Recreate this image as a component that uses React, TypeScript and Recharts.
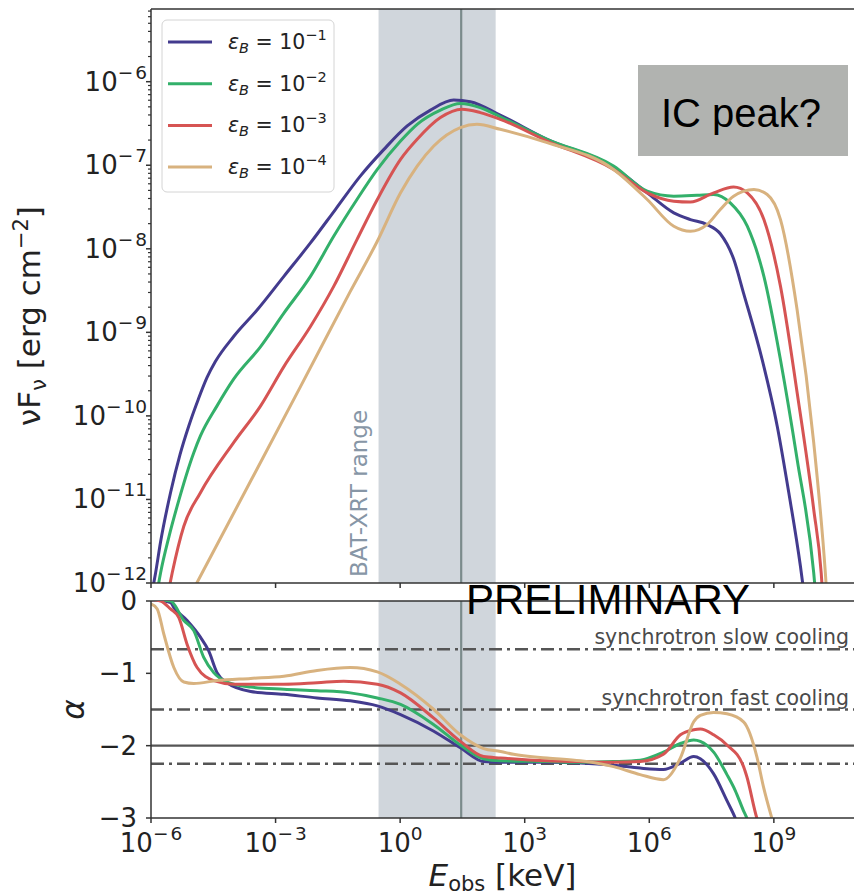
import React from 'react';
import {
  LineChart,
  Line,
  XAxis,
  YAxis,
  Legend,
  ReferenceArea,
  ReferenceLine,
} from 'recharts';

// spectra: [log10(E_obs / keV), log10(νFν / erg cm^-2)] for each ε_B
const SED_EB_1 = [
  [-5.97, -12.1], [-5.89, -11.88], [-5.77, -11.51], [-5.53, -10.92], [-5.3, -10.46],
  [-5.09, -10.12], [-4.86, -9.8], [-4.65, -9.54], [-4.45, -9.35], [-4.01, -9.05],
  [-3.44, -8.73], [-2.8, -8.33], [-2.16, -7.93], [-1.56, -7.53], [-0.96, -7.13],
  [-0.39, -6.81], [0.17, -6.53], [0.73, -6.34], [1.29, -6.22], [1.69, -6.24],
  [2.41, -6.4], [3.54, -6.69], [5.14, -7.02], [5.95, -7.33], [6.59, -7.57],
  [6.99, -7.65], [7.39, -7.71], [7.71, -7.82], [8.03, -8.12], [8.27, -8.53],
  [8.72, -9.33], [9.08, -10.12], [9.36, -10.92], [9.64, -11.8], [9.72, -12.1],
];
const SED_EB_2 = [
  [-5.85, -12.1], [-5.77, -11.88], [-5.57, -11.45], [-5.37, -11.08], [-4.97, -10.44],
  [-4.81, -10.24], [-4.41, -9.88], [-4.01, -9.56], [-3.36, -9.17], [-2.8, -8.77],
  [-2.16, -8.33], [-1.6, -7.85], [-1.04, -7.41], [-0.55, -7.05], [0.01, -6.71],
  [0.41, -6.51], [0.97, -6.34], [1.45, -6.26], [1.93, -6.31], [2.41, -6.42],
  [3.54, -6.69], [5.14, -7.01], [5.95, -7.31], [6.59, -7.37], [7.15, -7.36],
  [7.55, -7.35], [7.95, -7.45], [8.36, -7.73], [8.76, -8.33], [9.16, -9.33],
  [9.56, -10.52], [9.96, -11.88], [10.0, -12.1],
];
const SED_EB_3 = [
  [-5.58, -12.1], [-5.49, -11.88], [-5.21, -11.32], [-4.81, -10.92], [-4.01, -10.32],
  [-3.36, -9.88], [-2.8, -9.41], [-2.16, -8.93], [-1.6, -8.45], [-1.04, -7.89],
  [-0.55, -7.41], [0.01, -6.93], [0.41, -6.69], [0.97, -6.43], [1.49, -6.33],
  [1.93, -6.37], [2.41, -6.45], [3.54, -6.71], [5.14, -7.05], [5.95, -7.33],
  [6.59, -7.43], [6.99, -7.44], [7.55, -7.33], [8.03, -7.26], [8.36, -7.33],
  [8.76, -7.65], [9.16, -8.45], [9.56, -9.72], [9.96, -11.12], [10.14, -11.88],
  [10.17, -12.1],
];
const SED_EB_4 = [
  [-4.95, -12.05], [-4.77, -11.88], [-3.6, -10.78], [-2.4, -9.65], [-1.2, -8.51],
  [-0.55, -7.91], [0.01, -7.33], [0.41, -7.01], [0.81, -6.77], [1.45, -6.55],
  [1.85, -6.51], [2.41, -6.57], [3.54, -6.73], [5.14, -7.05], [5.95, -7.41],
  [6.59, -7.73], [6.99, -7.79], [7.39, -7.71], [7.71, -7.53], [8.03, -7.37],
  [8.52, -7.29], [8.84, -7.35], [9.16, -7.65], [9.56, -8.73], [9.96, -10.32],
  [10.24, -11.88], [10.27, -12.1],
];

// local photon index α: [log10(E_obs / keV), α]
const ALPHA_EB_1 = [
  [-6.0, 0.02], [-5.53, -0.02], [-5.45, -0.09], [-5.13, -0.27], [-4.81, -0.5],
  [-4.61, -0.69], [-4.41, -0.99], [-4.17, -1.13], [-3.6, -1.25], [-2.8, -1.29],
  [-2.0, -1.34], [-1.2, -1.38], [-0.55, -1.45], [0.01, -1.57], [0.81, -1.8],
  [1.45, -2.03], [2.01, -2.22], [2.42, -2.23], [3.54, -2.23], [4.34, -2.24],
  [5.14, -2.27], [5.78, -2.31], [6.34, -2.33], [6.75, -2.24], [7.07, -2.15],
  [7.23, -2.18], [7.55, -2.39], [7.87, -2.76], [8.07, -3.0], [8.15, -3.12],
];
const ALPHA_EB_2 = [
  [-6.0, 0.02], [-5.53, 0.0], [-5.21, -0.27], [-4.97, -0.41], [-4.73, -0.78],
  [-4.49, -0.99], [-4.17, -1.12], [-3.6, -1.19], [-2.8, -1.22], [-2.0, -1.24],
  [-1.2, -1.27], [-0.55, -1.34], [0.01, -1.43], [0.81, -1.71], [1.45, -1.99],
  [2.01, -2.18], [2.42, -2.21], [3.54, -2.22], [4.34, -2.23], [5.14, -2.22],
  [5.78, -2.2], [6.34, -2.09], [6.75, -1.97], [7.07, -1.92], [7.23, -1.94],
  [7.55, -2.09], [7.87, -2.4], [8.07, -2.62], [8.27, -2.9], [8.35, -3.0],
  [8.42, -3.1],
];
const ALPHA_EB_3 = [
  [-6.0, 0.02], [-5.77, 0.0], [-5.53, -0.11], [-5.33, -0.23], [-5.13, -0.6],
  [-4.89, -0.92], [-4.49, -1.1], [-4.0, -1.15], [-2.8, -1.15], [-2.0, -1.13],
  [-1.36, -1.11], [-0.55, -1.15], [0.01, -1.27], [0.81, -1.62], [1.45, -1.94],
  [2.01, -2.15], [2.42, -2.17], [3.54, -2.21], [4.34, -2.22], [5.14, -2.23],
  [5.78, -2.22], [6.34, -2.12], [6.75, -1.85], [7.07, -1.78], [7.23, -1.77],
  [7.55, -1.85], [7.87, -1.99], [8.27, -2.29], [8.35, -2.43], [8.59, -3.0],
  [8.65, -3.1],
];
const ALPHA_EB_4 = [
  [-6.0, -0.04], [-5.85, -0.11], [-5.69, -0.46], [-5.45, -0.92], [-5.21, -1.12],
  [-4.97, -1.14], [-4.41, -1.1], [-3.6, -1.07], [-2.8, -1.04], [-2.0, -0.96],
  [-1.2, -0.92], [-0.55, -0.98], [0.01, -1.15], [0.81, -1.5], [1.45, -1.85],
  [2.01, -2.04], [2.42, -2.08], [2.73, -2.12], [3.54, -2.17], [4.34, -2.21],
  [5.14, -2.29], [5.78, -2.4], [6.34, -2.47], [6.75, -2.17], [7.07, -1.67],
  [7.23, -1.58], [7.55, -1.54], [7.87, -1.56], [8.27, -1.67], [8.59, -2.15],
  [8.75, -2.57], [8.95, -3.0], [9.0, -3.1],
];

const SED_SERIES = [SED_EB_1, SED_EB_2, SED_EB_3, SED_EB_4];
const ALPHA_SERIES = [ALPHA_EB_1, ALPHA_EB_2, ALPHA_EB_3, ALPHA_EB_4];
const EB_EXPONENTS = ['−1', '−2', '−3', '−4'];
const COLORS = ['#433b8e', '#33b06a', '#d65453', '#d8b27f'];

const E_TICKS = [-6, -3, 0, 3, 6, 9];
const FLUX_TICKS = [-12, -11, -10, -9, -8, -7, -6];
const ALPHA_TICKS = [0, -1, -2, -3];

const E_MIN = -6;
const E_MAX = 10.93;
const F_MIN = -12;
const F_MAX = -5.13;
const A_MIN = -3;
const A_MAX = 0;

// BAT-XRT window (0.3-200 keV) and the marked energy
const BAT_XRT = [-0.52, 2.3];
const E_MARK = 1.47;

// reference indices
const SLOW_COOLING = -2 / 3;
const FAST_COOLING = -1.5;
const ALPHA_TWO = -2;
const ALPHA_P = -2.25;

const FLUX_MINOR = FLUX_TICKS.flatMap((d) =>
  [2, 3, 4, 5, 6, 7, 8, 9].map((m) => d + Math.log10(m)),
).filter((v) => v < F_MAX);

const FONT = '"DejaVu Sans", sans-serif';
const SANS = '"Liberation Sans", Arial, sans-serif';
const SPINE = '#333';
const INK = '#222';
const TICK_SIZE = 26;
const SUP_SIZE = 18.5;
const LABEL_SIZE = 31;
const spine = { stroke: SPINE, strokeWidth: 1.5 };

const toPoints = (pairs: number[][]) => pairs.map(([x, y]) => ({ x, y }));

// power-of-ten label, minus sign set slightly apart like mathtext does
function Pow10({ v }: { v: number }) {
  if (v < 0) {
    return (
      <>
        10
        <tspan dy={-12} fontSize={SUP_SIZE}>−</tspan>
        <tspan dx={2} fontSize={SUP_SIZE}>{-v}</tspan>
      </>
    );
  }
  return (
    <>
      10
      <tspan dy={-12} fontSize={SUP_SIZE}>{v}</tspan>
    </>
  );
}

function FluxTick({ x, y, payload }: any) {
  const v = payload.value;
  if (!Number.isInteger(v)) {
    return <line x1={x - 3} x2={x} y1={y} y2={y} stroke={SPINE} strokeWidth={1.2} />;
  }
  return (
    <g>
      <line x1={x - 5} x2={x} y1={y} y2={y} stroke={SPINE} strokeWidth={1.5} />
      <text x={x - 4} y={y + 9} textAnchor="end" fontFamily={FONT} fontSize={TICK_SIZE} fill={INK}>
        <Pow10 v={v} />
      </text>
    </g>
  );
}

function AlphaTick({ x, y, payload }: any) {
  const v = payload.value;
  return (
    <g>
      <line x1={x - 5} x2={x} y1={y} y2={y} stroke={SPINE} strokeWidth={1.5} />
      <text x={x - 14} y={y + 9} textAnchor="end" fontFamily={FONT} fontSize={TICK_SIZE} fill={INK}>
        {v < 0 ? `−${-v}` : `${v}`}
      </text>
    </g>
  );
}

function EMarkTick({ x, y }: any) {
  return <line x1={x} x2={x} y1={y} y2={y + 5} stroke={SPINE} strokeWidth={1.5} />;
}

function ETick({ x, y, payload }: any) {
  return (
    <g>
      <line x1={x} x2={x} y1={y} y2={y + 5} stroke={SPINE} strokeWidth={1.5} />
      <text x={x} y={y + 34} textAnchor="middle" fontFamily={FONT} fontSize={TICK_SIZE} fill={INK}>
        <Pow10 v={payload.value} />
      </text>
    </g>
  );
}

function FluxLabel({ viewBox }: any) {
  if (!viewBox) return null;
  const cx = 40;
  const cy = viewBox.y + viewBox.height / 2 + 20;
  return (
    <text
      x={cx}
      y={cy}
      transform={`rotate(-90 ${cx} ${cy})`}
      textAnchor="middle"
      fontFamily={FONT}
      fontSize={LABEL_SIZE}
      fill={INK}
    >
      νF<tspan dy={6} fontSize={21}>ν</tspan>
      <tspan dy={-6}> [erg cm</tspan>
      <tspan dy={-12} fontSize={21}>−2</tspan>
      <tspan dy={12}>]</tspan>
    </text>
  );
}

function AlphaLabel({ viewBox }: any) {
  if (!viewBox) return null;
  const cx = 84;
  const cy = viewBox.y + viewBox.height / 2;
  return (
    <text
      x={cx}
      y={cy}
      transform={`rotate(-90 ${cx} ${cy})`}
      textAnchor="middle"
      fontFamily={FONT}
      fontStyle="italic"
      fontSize={LABEL_SIZE}
      fill={INK}
    >
      α
    </text>
  );
}

function ELabel({ viewBox }: any) {
  if (!viewBox) return null;
  const cx = viewBox.x + viewBox.width / 2;
  return (
    <text x={cx} y={viewBox.y + 68} textAnchor="middle" fontFamily={FONT} fontSize={LABEL_SIZE} fill={INK}>
      <tspan fontStyle="italic">E</tspan>
      <tspan dy={5} fontSize={21}>obs</tspan>
      <tspan dy={-5}> [keV]</tspan>
    </text>
  );
}

function BandLabel({ viewBox }: any) {
  if (!viewBox) return null;
  const tx = viewBox.x - 12;
  const ty = viewBox.y + viewBox.height - 6;
  return (
    <text
      x={tx}
      y={ty}
      transform={`rotate(-90 ${tx} ${ty})`}
      fontFamily={FONT}
      fontSize={23}
      fill="#8796a6"
    >
      BAT-XRT range
    </text>
  );
}

function CoolingLabel({ viewBox, text }: any) {
  if (!viewBox) return null;
  return (
    <text
      x={viewBox.x + viewBox.width - 5}
      y={viewBox.y - 5}
      textAnchor="end"
      fontFamily={FONT}
      fontSize={20.5}
      fill="#4a4a4a"
    >
      {text}
    </text>
  );
}

function EpsLegend() {
  return (
    <svg width={174} height={174}>
      <rect x={1} y={1} width={172} height={172} rx={5} fill="#fff" fillOpacity={0.85} stroke="#d4d4d4" />
      {COLORS.map((c, i) => {
        const cy = 23 + i * 41.7;
        return (
          <g key={c}>
            <line x1={7} x2={51} y1={cy} y2={cy} stroke={c} strokeWidth={3} />
            <text x={67} y={cy + 7} fontFamily={FONT} fontSize={20.5} fill={INK}>
              <tspan fontStyle="italic">ε</tspan>
              <tspan fontStyle="italic" fontSize={14.5} dy={4}>B</tspan>
              <tspan dy={-4}> = 10</tspan>
              <tspan fontSize={14.5} dy={-9}>{EB_EXPONENTS[i]}</tspan>
            </text>
          </g>
        );
      })}
    </svg>
  );
}

export default function App() {
  return (
    <div style={{ position: 'absolute', left: 0, top: 0, width: 854, height: 895, background: '#fff', overflow: 'hidden' }}>
      {/* νFν spectra */}
      <div style={{ position: 'absolute', left: 0, top: 0 }}>
        <LineChart width={854} height={603} margin={{ top: 9, right: 0, bottom: 0, left: 0 }}>
          <XAxis
            type="number"
            dataKey="x"
            domain={[E_MIN, E_MAX]}
            ticks={E_TICKS}
            interval={0}
            allowDataOverflow
            tickSize={0}
            tickMargin={0}
            tickLine={false}
            axisLine={spine}
            tick={<EMarkTick />}
            height={20}
          />
          <YAxis
            type="number"
            domain={[F_MIN, F_MAX]}
            ticks={[...FLUX_TICKS, ...FLUX_MINOR]}
            interval={0}
            allowDataOverflow
            tickSize={0}
            tickMargin={0}
            tickLine={false}
            axisLine={spine}
            tick={<FluxTick />}
            width={151}
            label={<FluxLabel />}
          />
          <ReferenceArea
            x1={BAT_XRT[0]}
            x2={BAT_XRT[1]}
            fill="#d0d6dc"
            fillOpacity={1}
            stroke="none"
            label={<BandLabel />}
          />
          <ReferenceLine x={E_MARK} stroke="#7b8b8c" strokeWidth={2.2} />
          <ReferenceLine y={F_MAX} stroke={SPINE} strokeWidth={1.5} />
          <Legend
            layout="vertical"
            align="center"
            verticalAlign="middle"
            wrapperStyle={{ left: 161, top: 19, width: 174, height: 174 }}
            content={() => <EpsLegend />}
          />
          {SED_SERIES.map((s, i) => (
            <Line
              key={`sed-${i}`}
              data={toPoints(s)}
              dataKey="y"
              name={`εB = 10^${EB_EXPONENTS[i]}`}
              type="monotone"
              stroke={COLORS[i]}
              strokeWidth={3}
              dot={false}
              activeDot={false}
              isAnimationActive={false}
            />
          ))}
        </LineChart>
      </div>

      {/* spectral index */}
      <div style={{ position: 'absolute', left: 0, top: 590 }}>
        <LineChart width={854} height={305} margin={{ top: 11, right: 0, bottom: 0, left: 0 }}>
          <XAxis
            type="number"
            dataKey="x"
            domain={[E_MIN, E_MAX]}
            ticks={E_TICKS}
            interval={0}
            allowDataOverflow
            tickSize={0}
            tickMargin={0}
            tickLine={false}
            axisLine={spine}
            tick={<ETick />}
            height={77}
            label={<ELabel />}
          />
          <YAxis
            type="number"
            domain={[A_MIN, A_MAX]}
            ticks={ALPHA_TICKS}
            interval={0}
            allowDataOverflow
            tickSize={0}
            tickMargin={0}
            tickLine={false}
            axisLine={spine}
            tick={<AlphaTick />}
            width={151}
            label={<AlphaLabel />}
          />
          <ReferenceArea x1={BAT_XRT[0]} x2={BAT_XRT[1]} fill="#d0d6dc" fillOpacity={1} stroke="none" />
          <ReferenceLine x={E_MARK} stroke="#7b8b8c" strokeWidth={2.2} />
          <ReferenceLine
            y={SLOW_COOLING}
            stroke="#555"
            strokeWidth={2.4}
            strokeDasharray="13 5 3 5"
            label={<CoolingLabel text="synchrotron slow cooling" />}
          />
          <ReferenceLine
            y={FAST_COOLING}
            stroke="#555"
            strokeWidth={2.4}
            strokeDasharray="13 5 3 5"
            label={<CoolingLabel text="synchrotron fast cooling" />}
          />
          <ReferenceLine y={ALPHA_TWO} stroke="#555" strokeWidth={2.4} />
          <ReferenceLine y={ALPHA_P} stroke="#555" strokeWidth={2.4} strokeDasharray="13 5 3 5" />
          <ReferenceLine y={A_MAX} stroke={SPINE} strokeWidth={1.5} />
          {ALPHA_SERIES.map((s, i) => (
            <Line
              key={`alpha-${i}`}
              data={toPoints(s)}
              dataKey="y"
              type="monotone"
              stroke={COLORS[i]}
              strokeWidth={3}
              dot={false}
              activeDot={false}
              legendType="none"
              isAnimationActive={false}
            />
          ))}
        </LineChart>
      </div>

      {/* annotations */}
      <svg
        width={854}
        height={895}
        style={{ position: 'absolute', left: 0, top: 0, pointerEvents: 'none' }}
      >
        <rect x={638} y={65} width={210} height={91} fill="#b1b3b0" />
        <text x={741} y={127} textAnchor="middle" fontFamily={SANS} fontSize={40} fill="#000">
          IC peak?
        </text>
        <text x={466} y={614} fontFamily={SANS} fontSize={42} fill="#000">
          PRELIMINARY
        </text>
      </svg>
    </div>
  );
}
